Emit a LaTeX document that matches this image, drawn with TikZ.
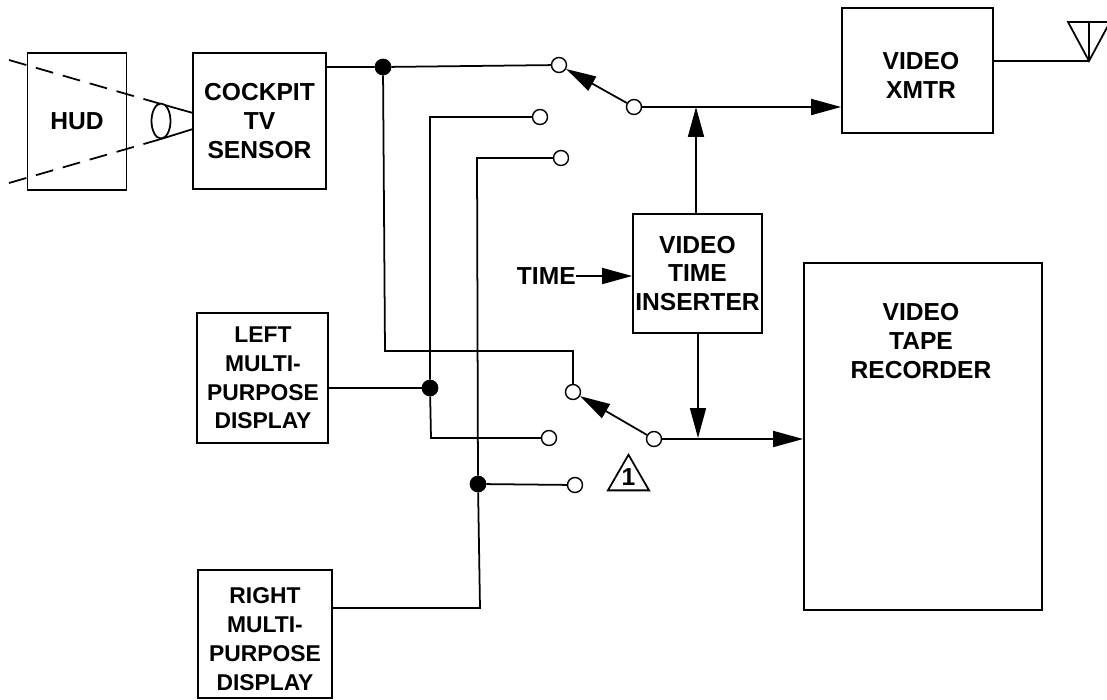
\documentclass[tikz,border=0pt]{standalone}
\usepackage{fontspec}
\setmainfont{Liberation Sans}
\usetikzlibrary{arrows.meta,shapes.geometric}
\tikzset{
  box/.style={draw, line width=1pt, inner sep=0pt, align=center, font=\fontsize{14}{16.4}\selectfont\bfseries},
  label/.style={inner sep=0pt, align=center, font=\fontsize{14}{16.4}\selectfont\bfseries},
  smalllabel/.style={inner sep=0pt, align=center, font=\fontsize{13}{16.4}\selectfont\bfseries},
  contact/.style={draw, line width=0.8pt, circle, fill=white, inner sep=0pt, minimum size=0.3cm},
  junction/.style={draw, circle, fill=black, inner sep=0pt, minimum size=0.32cm},
  wire/.style={line width=1pt},
  flow/.style={line width=1pt, -{Triangle[length=0.6cm,width=0.32cm]}},
}
\begin{document}
\begin{tikzpicture}[x=0.02cm, y=-0.02cm]
  \useasboundingbox (0,0) rectangle (1107,700);

  % boxes
  \node[box, minimum width=1.98cm, minimum height=2.74cm] (hud) at (77,121.5) {HUD};
  \node[box, minimum width=2.66cm, minimum height=2.72cm] (cockpit) at (259.5,121) {COCKPIT\\TV\\SENSOR};
  \node[box, minimum width=2.62cm, minimum height=2.6cm] (leftmpd) at (262.5,378) {};
  \node[box, minimum width=2.68cm, minimum height=2.56cm] (rightmpd) at (265,634) {};
  \node[box, minimum width=3.02cm, minimum height=2.5cm] (xmtr) at (917.5,70.5) {};
  \node[box, minimum width=2.58cm, minimum height=2.38cm] (inserter) at (697.5,273.5) {VIDEO\\TIME\\INSERTER};
  \node[box, minimum width=4.76cm, minimum height=6.94cm] (recorder) at (923,436.5) {};

  % box texts
  \node[smalllabel] (lefttext) at (263,378) {LEFT\\MULTI-\\PURPOSE\\DISPLAY};
  \node[smalllabel] (righttext) at (265,639) {RIGHT\\MULTI-\\PURPOSE\\DISPLAY};
  \node[label] (xmtrtext) at (921,75.5) {VIDEO\\XMTR};
  \node[label] (recordertext) at (921,341) {VIDEO\\TAPE\\RECORDER};
  \node[label, anchor=east] (time) at (576,276) {TIME};

  % switch contacts
  \node[contact] (topa) at (559,65) {};
  \node[contact] (topb) at (540,117) {};
  \node[contact] (topc) at (561,158) {};
  \node[contact] (toppole) at (634,107) {};
  \node[contact] (lowa) at (573,392) {};
  \node[contact] (lowb) at (549,438) {};
  \node[contact] (lowc) at (575,485) {};
  \node[contact] (lowpole) at (654,439) {};

  % junctions
  \node[junction] (jcockpit) at (383,67) {};
  \node[junction] (jleft) at (430,388) {};
  \node[junction] (jright) at (478,484) {};

  % cockpit tv sensor lines
  \draw[wire] (cockpit.east |- jcockpit) -- (jcockpit) -- (topa);
  \coordinate (bendcockpit) at (385,351);
  \coordinate (bendlow) at (573,351);
  \draw[wire] (jcockpit) -- (bendcockpit) -- (bendlow) -- (lowa);

  % left display lines
  \draw[wire] (leftmpd.east |- jleft) -- (jleft);
  \coordinate (bendlefttop) at (430,117);
  \coordinate (bendleftlow) at (431,438);
  \draw[wire] (topb) -- (bendlefttop) -- (jleft) -- (bendleftlow) -- (lowb);

  % right display lines
  \coordinate (bendrighttop) at (477,158);
  \coordinate (bendrightlow) at (480,608);
  \draw[wire] (topc) -- (bendrighttop) -- (jright) -- (bendrightlow) -- (rightmpd.east |- bendrightlow);
  \draw[wire] (jright) -- (lowc);

  % switch arms
  \draw[flow] (toppole) -- (topa);
  \draw[flow] (lowpole) -- (lowa);

  % outputs
  \draw[flow] (toppole) -- (xmtr.west |- toppole);
  \draw[flow] (lowpole) -- (recorder.west |- lowpole);
  \draw[flow] (time) -- (inserter.west |- time);
  \coordinate (teetop) at (696,107);
  \coordinate (teelow) at (698,438);
  \draw[flow] (inserter.north -| teetop) -- (teetop);
  \draw[flow] (inserter.south -| teelow) -- (teelow);

  % hud view and lens
  \coordinate (viewtop) at (9,60);
  \coordinate (viewlow) at (9,183);
  \coordinate (lenstop) at (161,104);
  \coordinate (lenslow) at (161,139);
  \draw[wire, dash pattern=on 0.36cm off 0.2cm] (viewtop) -- (lenstop);
  \draw[wire, dash pattern=on 0.36cm off 0.2cm] (viewlow) -- (lenslow);
  \coordinate (conetop) at (193,113);
  \coordinate (conelow) at (193,129);
  \draw[wire] (lenstop) -- (conetop);
  \draw[wire] (lenslow) -- (conelow);
  \node[draw, line width=1pt, ellipse, fill=white, inner sep=0pt, minimum width=0.38cm, minimum height=0.7cm] (lens) at (161,121) {};

  % antenna
  \coordinate (antenna) at (1089,61);
  \coordinate (antennal) at (1068,22);
  \coordinate (antennam) at (1089,22);
  \coordinate (antennar) at (1110,22);
  \draw[wire] (xmtr.east |- antenna) -- (antenna);
  \draw[wire] (antennal) -- (antenna) -- (antennar) -- cycle;
  \draw[wire] (antennam) -- (antenna);

  % note flag
  \node[draw, line width=1pt, regular polygon, regular polygon sides=3, inner sep=0pt, minimum size=0.95cm] (flag) at (628.5,478.5) {};
  \node[label] (flagtext) at (628.5,477) {1};
\end{tikzpicture}
\end{document}
